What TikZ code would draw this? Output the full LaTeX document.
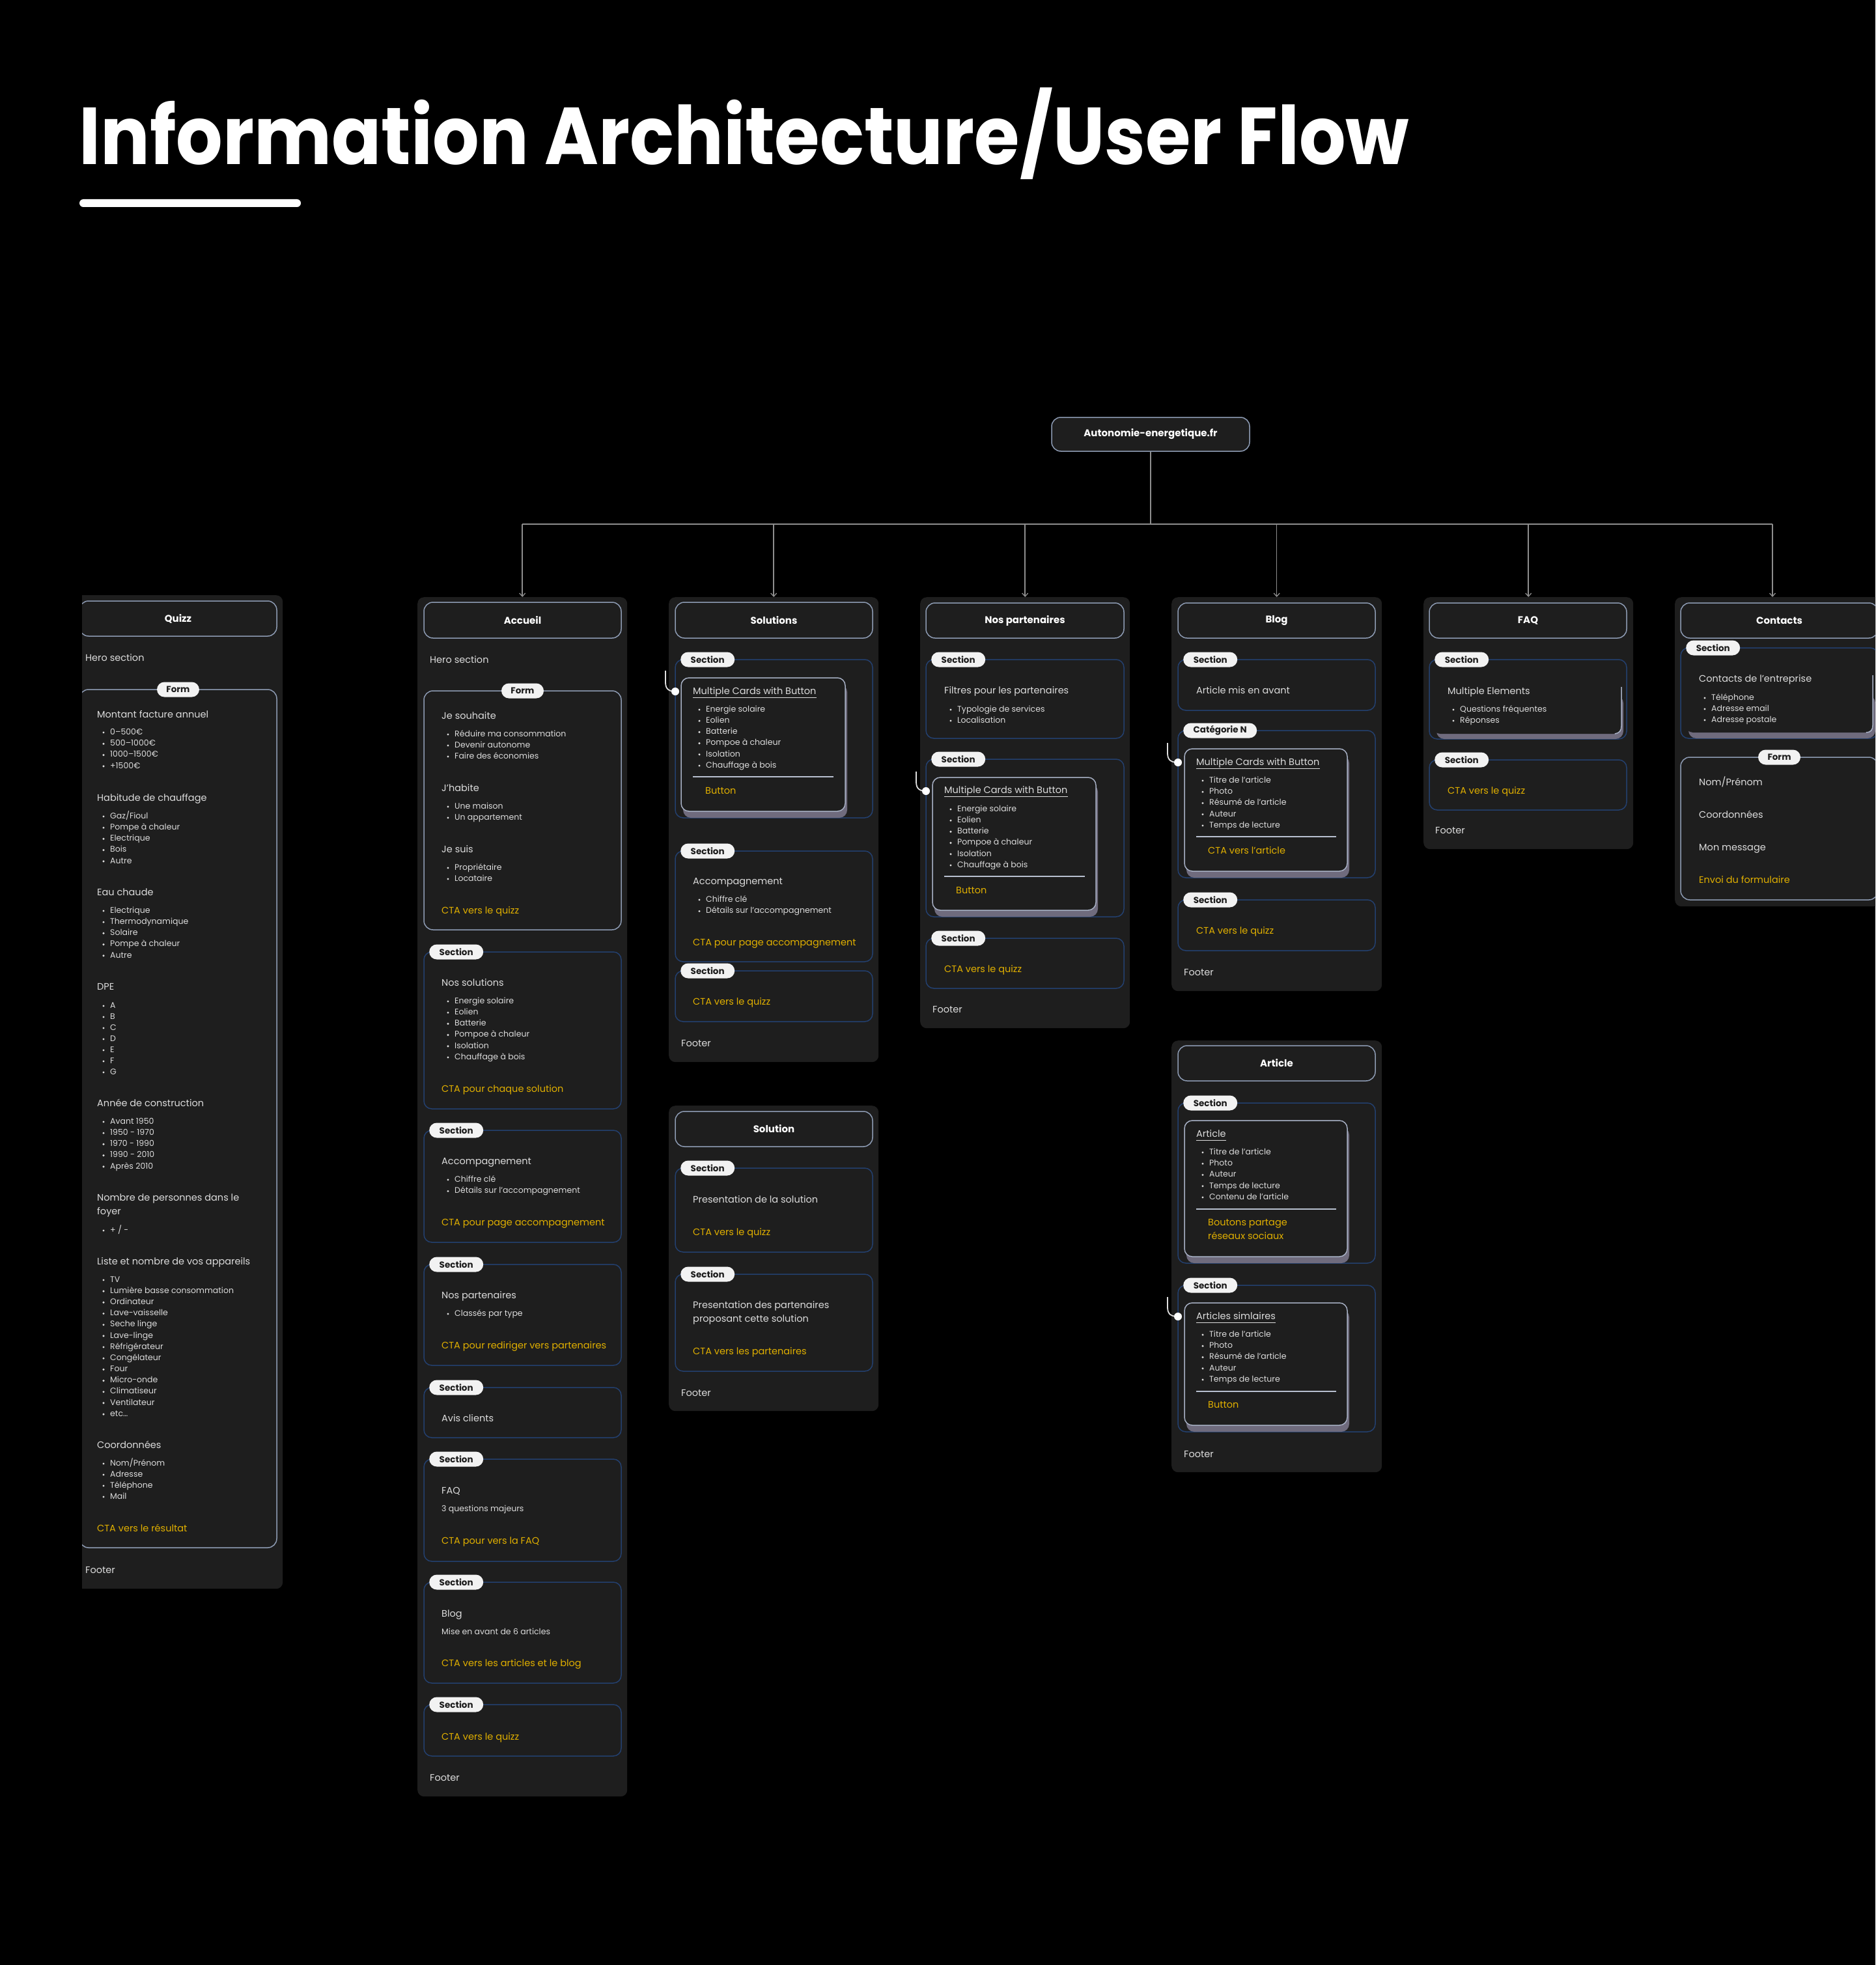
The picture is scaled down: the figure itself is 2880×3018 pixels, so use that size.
\documentclass[tikz,border=0pt]{standalone}
\usepackage{graphicx}
\usepackage{fontspec}
\setmainfont{Poppins}
\usetikzlibrary{arrows.meta}
\definecolor{panelc}{HTML}{1E1E1E}
\definecolor{tborder}{HTML}{8D9BB3}
\definecolor{sborder}{HTML}{23406F}
\definecolor{cardb}{HTML}{A7B0C4}
\definecolor{shadowc}{HTML}{6F6B7D}
\definecolor{pillc}{HTML}{F2F2F2}
\definecolor{pilltext}{HTML}{1C1C1C}
\definecolor{txtc}{HTML}{DCDCDC}
\definecolor{ctac}{HTML}{E0AF00}
\definecolor{linec}{HTML}{8E8E8E}
\definecolor{sepc}{HTML}{B8C0D0}
\newcommand\hdfont{\fontsize{14.5}{17}\selectfont}
\newcommand\blfont{\fontsize{12.5}{15}\selectfont}
\newcommand\ptfont{\fontsize{15}{18}\selectfont\bfseries}
\newcommand\pillfont{\fontsize{13.5}{16}\selectfont\bfseries}
\tikzset{
  panel/.style={fill=panelc, rounded corners=10pt, inner sep=0pt, anchor=north west},
  tbox/.style={draw=tborder, line width=1.5pt, fill=panelc, rounded corners=14pt, inner sep=0pt, font=\ptfont, text=white},
  sbox/.style={draw=sborder, line width=1.5pt, rounded corners=12pt},
  fbox/.style={draw=tborder, line width=1.5pt, rounded corners=14pt},
  pill/.style={fill=pillc, rounded corners=11.5pt, minimum height=23pt, minimum width=83pt, inner sep=0pt, font=\pillfont, text=pilltext},
  hd/.style={anchor=west, inner sep=0pt, font=\hdfont, text=txtc, text height=10.5pt, text depth=3pt},
  bl/.style={anchor=west, inner sep=0pt, font=\blfont, text=txtc, text height=9pt, text depth=2.5pt},
  cta/.style={hd, text=ctac},
  card/.style={draw=cardb, line width=1.5pt, fill=panelc, rounded corners=12pt},
  shad/.style={fill=shadowc, rounded corners=12pt},
  sepl/.style={draw=sepc, line width=1.2pt},
  conn/.style={draw=linec, line width=1.5pt},
  arr/.style={-{Straight Barb[length=5pt,width=9pt,line width=1.3pt]}},
  hookl/.style={draw=white!88!black, line width=1.8pt},
  dotn/.style={circle, fill=white, inner sep=0pt, minimum size=12pt},
}
\newcommand\panelbox[5]{\node[panel, minimum width={(#4-#2)*1pt}, minimum height={(#5-#3)*1pt}] (#1) at (#2,#3) {};}
\newcommand\tbx[6]{\node[tbox, minimum width={(#4-#2)*1pt}, minimum height={(#5-#3)*1pt}] (#1) at ({(#2+#4)/2},{(#3+#5)/2}) {#6};}
\newcommand\sbx[7][]{\draw[sbox] (#3,#4) rectangle (#5,#6);
  \node[pill, anchor=west, #1] (#2) at ({#3+8},#4) {#7};}
\newcommand\fbx[5]{\draw[fbox] (#2,#3) rectangle (#4,#5);
  \node[pill, minimum width=65pt] (#1) at ({(#2+#4)/2},#3) {Form};}
\newcommand\blist[5]{\foreach \itm [count=\n from 0] in {#5}{%
  \fill[txtc] (#2,{#3+\n*#4}) circle[radius=1.7];
  \node[bl] (#1-\n) at ({#2+10},{#3+\n*#4}) {\itm};}}
\newcommand\cardbox[4]{\fill[shad] ({#1+3},{#2+10}) rectangle ({#3+3},{#4+10});
  \draw[card] (#1,#2) rectangle (#3,#4);}
\newcommand\utitle[4]{\node[hd] (#1) at (#2,#3) {#4};
  \draw[txtc, line width=0.9pt] ([yshift=-1.5pt]#1.south west) -- ([yshift=-1.5pt]#1.south east);}
\newcommand\hookc[5]{\coordinate (#1-s) at (#2,#3);
  \coordinate (#1-e) at (#4,#5);
  \draw[hookl] (#1-s) -- (#2,{#5-14}) .. controls (#2,{#5-4}) and ({#2+5},#5) .. (#1-e);
  \node[dotn] (#1-d) at (#1-e) {};}
\begin{document}
\begin{tikzpicture}[x=1pt,y=-1pt]
\useasboundingbox (0,0) rectangle (2880,3018);
\fill[black] (0,0) rectangle (2880,3018);
\clip (0,0) rectangle (2880,3018);

% title
\node[anchor=base west, inner sep=0pt, text=white] (title) at (121,253) {\resizebox{2043pt}{\height}{\fontsize{124}{124}\selectfont\bfseries Information Architecture/User Flow}};
\fill[white, rounded corners=6pt] (122,306) rectangle (462,318);

% ---------------- Quizz
\begin{scope}
\clip (126,0) rectangle (2880,3018);
\panelbox{quizP}{112}{914}{434}{2440}
\tbx{quizT}{122}{923}{425}{977}{Quizz}
\node[hd] (quizHero) at (131,1012) {Hero section};
\fbx{quizF}{122}{1059}{425}{2377}
\node[hd] (q1) at (149,1099) {Montant facture annuel};
\blist{qb1}{159}{1125}{17.3}{0–500€,500–1000€,1000–1500€,+1500€}
\node[hd] (q2) at (149,1227) {Habitude de chauffage};
\blist{qb2}{159}{1254}{17.2}{Gaz/Fioul,Pompe à chaleur,Electrique,Bois,Autre}
\node[hd] (q3) at (149,1372) {Eau chaude};
\blist{qb3}{159}{1399}{17.2}{Electrique,Thermodynamique,Solaire,Pompe à chaleur,Autre}
\node[hd] (q4) at (149,1517) {DPE};
\blist{qb4}{159}{1545}{17}{A,B,C,D,E,F,G}
\node[hd] (q5) at (149,1696) {Année de construction};
\blist{qb5}{159}{1723}{17.2}{Avant 1950,1950 - 1970,1970 - 1990,1990 - 2010,Après 2010}
\node[hd] (q6) at (149,1841) {Nombre de personnes dans le};
\node[hd] (q7) at (149,1862) {foyer};
\blist{qb6}{159}{1890}{17}{+ / -}
\node[hd] (q8) at (149,1939) {Liste et nombre de vos appareils};
\blist{qb7}{159}{1966}{17.17}{TV,Lumière basse consommation,Ordinateur,Lave-vaisselle,Seche linge,Lave-linge,Réfrigérateur,Congélateur,Four,Micro-onde,Climatiseur,Ventilateur,etc\ldots}
\node[hd] (q9) at (149,2221) {Coordonnées};
\blist{qb8}{159}{2248}{17}{Nom/Prénom,Adresse,Téléphone,Mail}
\node[cta] (q10) at (149,2349) {CTA vers le résultat};
\node[hd] (quizFoot) at (131,2413) {Footer};
\end{scope}

% ---------------- Accueil
\panelbox{accP}{641}{917}{963}{2759}
\tbx{accT}{651}{925}{954}{980}{Accueil}
\node[hd] (accHero) at (660,1015) {Hero section};
\fbx{accF}{651}{1061}{954}{1428}
\node[hd] (acc1) at (678,1101) {Je souhaite};
\blist{accb1}{688}{1128}{17}{Réduire ma consommation,Devenir autonome,Faire des économies}
\node[hd] (acc2) at (678,1212) {J’habite};
\blist{accb2}{688}{1239}{17}{Une maison,Un appartement}
\node[hd] (acc3) at (678,1306) {Je suis};
\blist{accb3}{688}{1333}{17}{Propriétaire,Locataire}
\node[cta] (acc4) at (678,1400) {CTA vers le quizz};
\sbx{accS1}{651}{1462}{954}{1703}{Section}
\node[hd] (acc5) at (678,1511) {Nos solutions};
\blist{accb4}{688}{1538}{17.2}{Energie solaire,Eolien,Batterie,Pompoe à chaleur,Isolation,Chauffage à bois}
\node[cta] (acc6) at (678,1674) {CTA pour chaque solution};
\sbx{accS2}{651}{1736}{954}{1908}{Section}
\node[hd] (acc7) at (678,1785) {Accompagnement};
\blist{accb5}{688}{1812}{17.5}{Chiffre clé,Détails sur l’accompagnement}
\node[cta] (acc8) at (678,1879) {CTA pour page accompagnement};
\sbx{accS3}{651}{1942}{954}{2097}{Section}
\node[hd] (acc9) at (678,1991) {Nos partenaires};
\blist{accb6}{688}{2018}{17}{Classés par type}
\node[cta] (acc10) at (678,2068) {CTA pour rediriger vers partenaires};
\sbx{accS4}{651}{2131}{954}{2208}{Section}
\node[hd] (acc11) at (678,2180) {Avis clients};
\sbx{accS5}{651}{2241}{954}{2398}{Section}
\node[hd] (acc12) at (678,2291) {FAQ};
\node[bl] (acc13) at (678,2318) {3 questions majeurs};
\node[cta] (acc14) at (678,2368) {CTA pour vers la FAQ};
\sbx{accS6}{651}{2430}{954}{2585}{Section}
\node[hd] (acc15) at (678,2480) {Blog};
\node[bl] (acc16) at (678,2507) {Mise en avant de 6 articles};
\node[cta] (acc17) at (678,2556) {CTA vers les articles et le blog};
\sbx{accS7}{651}{2618}{954}{2697}{Section}
\node[cta] (acc18) at (678,2669) {CTA vers le quizz};
\node[hd] (accFoot) at (660,2732) {Footer};

% ---------------- Solutions
\panelbox{solP}{1027}{917}{1349}{1631}
\tbx{solT}{1037}{925}{1340}{980}{Solutions}
\sbx{solS1}{1037}{1013}{1340}{1256}{Section}
\cardbox{1046}{1041}{1298}{1246}
\hookc{solH}{1022}{1030}{1037}{1062}
\utitle{sol1}{1064}{1063}{Multiple Cards with Button}
\blist{solb1}{1074}{1090}{17.2}{Energie solaire,Eolien,Batterie,Pompoe à chaleur,Isolation,Chauffage à bois}
\draw[sepl] (1064,1193) -- (1280,1193);
\node[cta] (sol2) at (1083,1216) {Button};
\sbx{solS2}{1037}{1307}{1340}{1477}{Section}
\node[hd] (sol3) at (1064,1355) {Accompagnement};
\blist{solb2}{1074}{1382}{17.5}{Chiffre clé,Détails sur l’accompagnement}
\node[cta] (sol4) at (1064,1449) {CTA pour page accompagnement};
\sbx{solS3}{1037}{1491}{1340}{1569}{Section}
\node[cta] (sol5) at (1064,1540) {CTA vers le quizz};
\node[hd] (solFoot) at (1046,1604) {Footer};

% ---------------- Solution
\panelbox{sonP}{1027}{1698}{1349}{2167}
\tbx{sonT}{1037}{1707}{1340}{1761}{Solution}
\sbx{sonS1}{1037}{1794}{1340}{1923}{Section}
\node[hd] (son1) at (1064,1844) {Presentation de la solution};
\node[cta] (son2) at (1064,1894) {CTA vers le quizz};
\sbx{sonS2}{1037}{1957}{1340}{2106}{Section}
\node[hd] (son3) at (1064,2006) {Presentation des partenaires};
\node[hd] (son4) at (1064,2027) {proposant cette solution};
\node[cta] (son5) at (1064,2077) {CTA vers les partenaires};
\node[hd] (sonFoot) at (1046,2141) {Footer};

% ---------------- Nos partenaires
\panelbox{parP}{1413}{917}{1735}{1579}
\tbx{parT}{1422}{926}{1726}{980}{Nos partenaires}
\sbx{parS1}{1422}{1013}{1726}{1134}{Section}
\node[hd] (par1) at (1450,1062) {Filtres pour les partenaires};
\blist{parb1}{1460}{1090}{17}{Typologie de services,Localisation}
\sbx{parS2}{1422}{1166}{1726}{1408}{Section}
\cardbox{1432}{1194}{1683}{1398}
\hookc{parH}{1407}{1185}{1422}{1215}
\utitle{par2}{1450}{1215}{Multiple Cards with Button}
\blist{parb2}{1460}{1243}{17.2}{Energie solaire,Eolien,Batterie,Pompoe à chaleur,Isolation,Chauffage à bois}
\draw[sepl] (1450,1346) -- (1666,1346);
\node[cta] (par3) at (1468,1369) {Button};
\sbx{parS3}{1422}{1441}{1726}{1518}{Section}
\node[cta] (par4) at (1450,1490) {CTA vers le quizz};
\node[hd] (parFoot) at (1432,1552) {Footer};

% ---------------- Blog
\panelbox{blgP}{1799}{917}{2122}{1522}
\tbx{blgT}{1809}{926}{2112}{980}{Blog}
\sbx{blgS1}{1809}{1013}{2112}{1091}{Section}
\node[hd] (blg1) at (1837,1062) {Article mis en avant};
\sbx[minimum width=113pt]{blgS2}{1809}{1122}{2112}{1348}{Catégorie N}
\cardbox{1819}{1150}{2069}{1338}
\hookc{blgH}{1793}{1141}{1809}{1171}
\utitle{blg2}{1837}{1172}{Multiple Cards with Button}
\blist{blgb1}{1847}{1199}{17.25}{Titre de l’article,Photo,Résumé de l’article,Auteur,Temps de lecture}
\draw[sepl] (1837,1285) -- (2052,1285);
\node[cta] (blg3) at (1855,1308) {CTA vers l’article};
\sbx{blgS3}{1809}{1382}{2112}{1460}{Section}
\node[cta] (blg4) at (1837,1431) {CTA vers le quizz};
\node[hd] (blgFoot) at (1818,1495) {Footer};

% ---------------- Article
\panelbox{artP}{1799}{1598}{2122}{2261}
\tbx{artT}{1809}{1606}{2112}{1660}{Article}
\sbx{artS1}{1809}{1694}{2112}{1940}{Section}
\cardbox{1819}{1721}{2069}{1930}
\utitle{art1}{1837}{1743}{Article}
\blist{artb1}{1847}{1770}{17.25}{Titre de l’article,Photo,Auteur,Temps de lecture,Contenu de l’article}
\draw[sepl] (1837,1857) -- (2052,1857);
\node[cta] (art2) at (1855,1879) {Boutons partage};
\node[cta] (art3) at (1855,1900) {réseaux sociaux};
\sbx{artS2}{1809}{1974}{2112}{2199}{Section}
\cardbox{1819}{2001}{2069}{2189}
\hookc{artH}{1793}{1992}{1809}{2022}
\utitle{art4}{1837}{2023}{Articles simlaires}
\blist{artb2}{1847}{2050}{17.25}{Titre de l’article,Photo,Résumé de l’article,Auteur,Temps de lecture}
\draw[sepl] (1837,2137) -- (2052,2137);
\node[cta] (art5) at (1855,2159) {Button};
\node[hd] (artFoot) at (1818,2235) {Footer};

% ---------------- FAQ
\panelbox{faqP}{2186}{917}{2508}{1304}
\tbx{faqT}{2195}{926}{2498}{980}{FAQ}
\sbx{faqS1}{2195}{1013}{2498}{1135}{Section}
\fill[shad] (2206,1068) rectangle (2493,1135);
\fill[panelc, rounded corners=12pt] (2200,1040) rectangle (2490,1127);
\draw[cardb, line width=1.5pt] (2490,1055) -- (2490,1115) .. controls (2490,1122) and (2487,1126) .. (2480,1127);
\node[hd] (faq1) at (2223,1063) {Multiple Elements};
\blist{faqb1}{2232}{1090}{17}{Questions fréquentes,Réponses}
\sbx{faqS2}{2195}{1167}{2498}{1244}{Section}
\node[cta] (faq2) at (2223,1216) {CTA vers le quizz};
\node[hd] (faqFoot) at (2204,1277) {Footer};

% ---------------- Contacts
\panelbox{conP}{2572}{917}{2894}{1392}
\tbx{conT}{2581}{926}{2884}{980}{Contacts}
\sbx{conS1}{2581}{995}{2884}{1134}{Section}
\fill[shad] (2593,1068) rectangle (2880,1134);
\fill[panelc, rounded corners=12pt] (2588,1030) rectangle (2876,1125);
\draw[cardb, line width=1.5pt] (2876,1037) -- (2876,1114) .. controls (2876,1121) and (2873,1125) .. (2866,1125);
\node[hd] (con1) at (2609,1044) {Contacts de l’entreprise};
\blist{conb1}{2618}{1072}{17}{Téléphone,Adresse email,Adresse postale}
\fbx{conF}{2581}{1163}{2884}{1382}
\node[hd] (con2) at (2609,1203) {Nom/Prénom};
\node[hd] (con3) at (2609,1253) {Coordonnées};
\node[hd] (con4) at (2609,1303) {Mon message};
\node[cta] (con5) at (2609,1353) {Envoi du formulaire};

% ---------------- Root and connectors
\tbx{root}{1615}{641}{1919}{693}{Autonomie-energetique.fr}
\coordinate (hub) at (1767,805);
\coordinate (hL) at (802,805);
\coordinate (hR) at (2722,805);
\coordinate (conTop) at (2722,917);
\draw[conn] (root.south) -- (hub);
\draw[conn] (hL) -- (hR);
\foreach \p in {accP,solP,parP,blgP,faqP} {\draw[conn,arr] (\p.north |- hub) -- (\p.north);}
\draw[conn,arr] (hR) -- (conTop);
\end{tikzpicture}
\end{document}
